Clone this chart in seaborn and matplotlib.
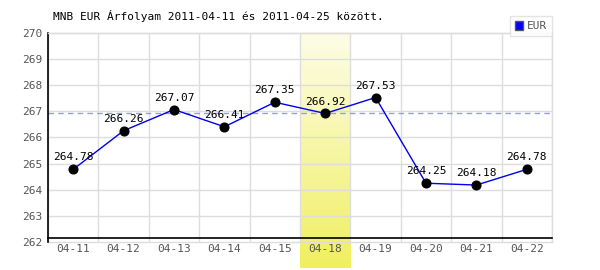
import matplotlib
matplotlib.use("Agg")
import matplotlib.pyplot as plt
import seaborn as sns
import numpy as np
import pandas as pd
from matplotlib.colors import LinearSegmentedColormap
from matplotlib.patches import Patch

dates = ["04-11", "04-12", "04-13", "04-14", "04-15", "04-18", "04-19", "04-20", "04-21", "04-22"]
rates = [264.78, 266.26, 267.07, 266.41, 267.35, 266.92, 267.53, 264.25, 264.18, 264.78]
highlight_idx = 5
ref_value = 266.92
title = "MNB EUR Árfolyam 2011-04-11 és 2011-04-25 között."

sns.set_theme(style="white")
plt.rcParams["font.family"] = ["DejaVu Sans Mono", "DejaVu Sans"]

df = pd.DataFrame({"date": dates, "rate": rates, "x": np.arange(len(dates))})

fig = plt.figure(figsize=(6, 2.7), dpi=100)
ax = fig.add_axes([0.08, 0.1037, 0.84, 0.7741])
ax.set_xlim(-0.5, len(dates) - 0.5)
ax.set_ylim(262, 270)

# highlight gradient band (extends below axis)
grad = np.linspace(0, 1, 256).reshape(-1, 1)
cmap = LinearSegmentedColormap.from_list("hl", ["#f0ef60", "#fdfde8"])
ax.imshow(grad, cmap=cmap, aspect="auto",
          extent=(highlight_idx - 0.5, highlight_idx + 0.5, 261.0, 270),
          origin="lower", zorder=0.5, clip_on=False)

# grid
for y in range(262, 271):
    ax.axhline(y, color="#dddddd", lw=1, zorder=0.6, clip_on=False)
for i in range(len(dates) + 1):
    ax.axvline(i - 0.5, color="#dddddd", lw=1, zorder=0.6)

ax.axhline(ref_value, color="#9999ee", lw=1, ls=(0, (4, 3)), zorder=1)

sns.lineplot(data=df, x="x", y="rate", ax=ax, color="#0000ee", lw=1,
             marker="o", markersize=6.5, markerfacecolor="black",
             markeredgecolor="black", label="EUR", zorder=3, legend=False)

for xi, v in zip(df["x"], df["rate"]):
    ax.annotate(f"{v:.2f}", (xi, v), xytext=(0, 5), textcoords="offset points",
                ha="center", va="bottom", fontsize=8, color="black", zorder=4)

ax.set_xticks(df["x"])
ax.set_xticklabels(dates)
ax.set_yticks(range(262, 271))
ax.tick_params(axis="both", length=0, labelsize=8, labelcolor="#555555", pad=4)
ax.set_xlabel("")
ax.set_ylabel("")

for s in ["top", "right"]:
    ax.spines[s].set_color("#dddddd")
    ax.spines[s].set_linewidth(1)
ax.spines["left"].set_color("black")
ax.spines["bottom"].set_color("black")
ax.spines["left"].set_linewidth(1.2)
ax.spines["bottom"].set_linewidth(1.2)
ax.spines["bottom"].set_position(("data", 262.15))

fig.text(53 / 600, 1 - 16 / 270, title, fontsize=8, color="black", ha="left", va="center")

leg = ax.legend(handles=[Patch(facecolor="#0000ff", edgecolor="#555555", label="EUR")],
                loc="upper right", bbox_to_anchor=(1.0, 1.08), fontsize=8,
                frameon=True, fancybox=False, handlelength=0.8, handleheight=0.8,
                handletextpad=0.3, borderpad=0.45, borderaxespad=0)
leg.get_frame().set_edgecolor("#dddddd")
leg.get_frame().set_linewidth(1)
leg.set_zorder(10)
for t in leg.get_texts():
    t.set_color("#555555")

fig.savefig("out.png", dpi=100)
